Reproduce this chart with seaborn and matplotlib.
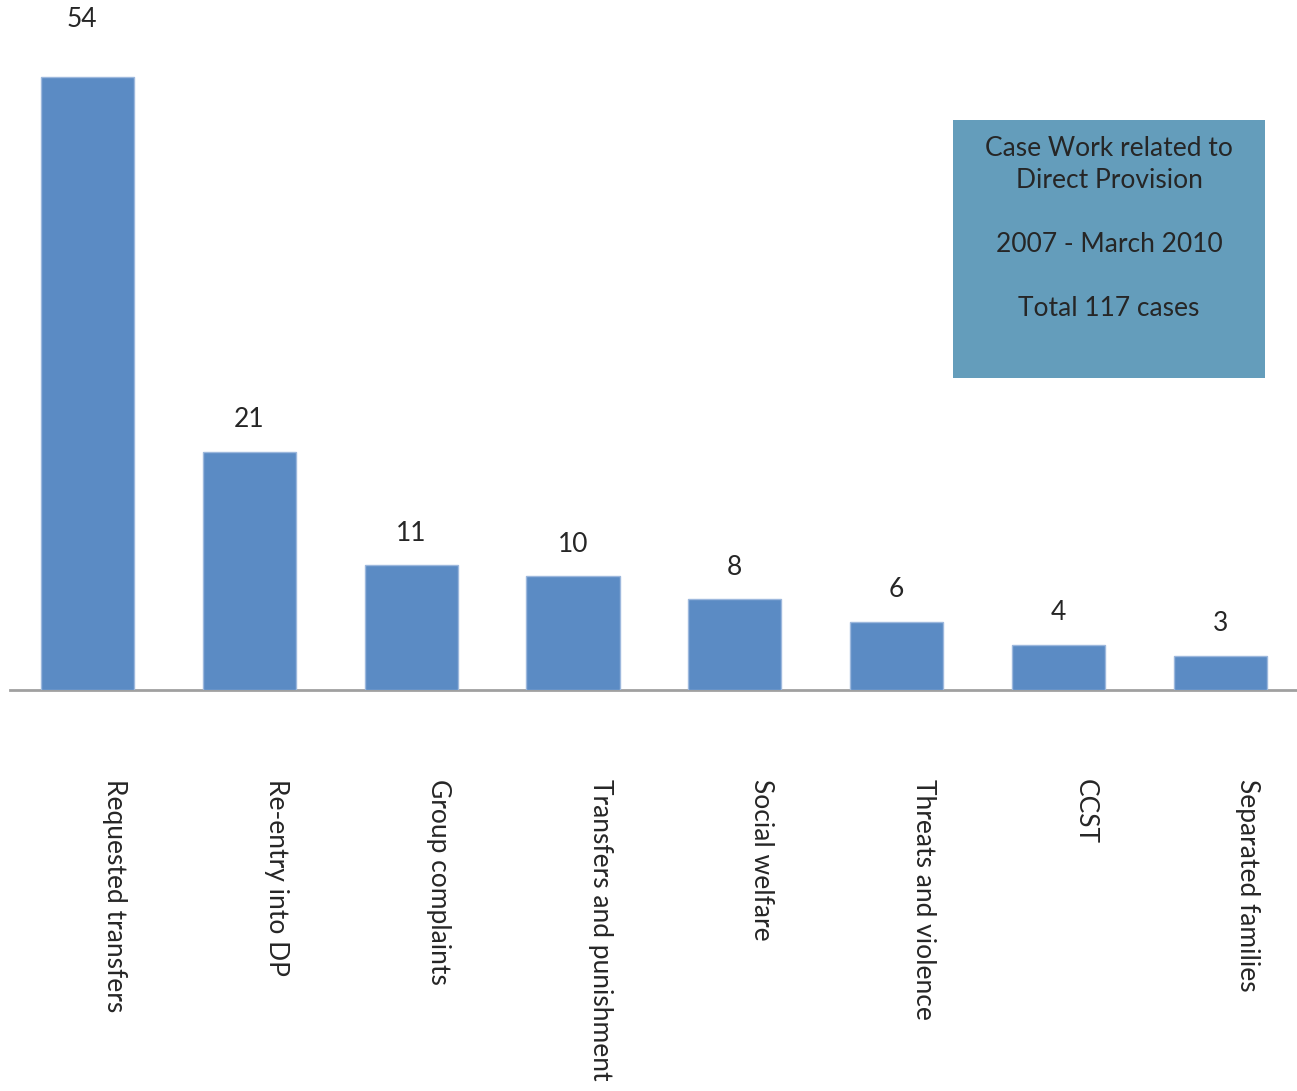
import matplotlib
matplotlib.use("Agg")
import matplotlib.pyplot as plt
import matplotlib.transforms as mtransforms
from matplotlib.patches import Rectangle
import seaborn as sns
import pandas as pd

# Case work categories and number of cases
categories = [
    "Requested transfers",
    "Re-entry into DP",
    "Group complaints",
    "Transfers and punishment",
    "Social welfare",
    "Threats and violence",
    "CCST",
    "Separated families",
]
cases = [54, 21, 11, 10, 8, 6, 4, 3]

box_lines = [
    "Case Work related to",
    "Direct Provision",
    "2007 - March 2010",
    "Total 117 cases",
]

BAR_COLOR = "#5B8BC4"
BOX_COLOR = "#649DBB"
TEXT_COLOR = "#262626"

sns.set_theme(style="white")
plt.rcParams["font.family"] = ["Lato", "DejaVu Sans"]

W, H = 1297, 1091
fig = plt.figure(figsize=(W / 100, H / 100), dpi=100)
fig.patch.set_facecolor("white")

# axes: baseline at 690 px from top, spanning x 10..1297 px
ax = fig.add_axes([10 / W, (H - 690) / H, (W - 10) / W, 690 / H])
df = pd.DataFrame({"category": categories, "cases": cases})
sns.barplot(data=df, x="category", y="cases", color=BAR_COLOR, width=0.575,
            saturation=1, edgecolor="#9DB8DD", linewidth=1.0, ax=ax)

ax.set_xlim(-0.48, 7.475)
ax.set_ylim(0, 60.78)
ax.set_xlabel("")
ax.set_ylabel("")
ax.set_yticks([])
for side in ["top", "left", "right"]:
    ax.spines[side].set_visible(False)
ax.spines["bottom"].set_color("#A0A0A0")
ax.spines["bottom"].set_linewidth(2)
ax.spines["bottom"].set_zorder(0)

ax.set_xticks(range(len(categories)))
ax.set_xticklabels(categories, rotation=-90, ha="center", va="top",
                   fontsize=19, color=TEXT_COLOR)
ax.tick_params(axis="x", length=0, pad=64)
shift = mtransforms.ScaledTranslation(0.27, 0, fig.dpi_scale_trans)
for lbl in ax.get_xticklabels():
    lbl.set_transform(lbl.get_transform() + shift)

# value labels above each bar
for i, v in enumerate(cases):
    offset = (-6, 57) if i == 0 else (0, 32)
    ax.annotate(str(v), (i, v), xytext=offset, textcoords="offset pixels",
                ha="center", va="center", fontsize=19, color=TEXT_COLOR,
                annotation_clip=False)

# summary box in the upper right
fig.add_artist(Rectangle((953 / W, 1 - 378 / H), (1265 - 953) / W, (378 - 120) / H,
                         transform=fig.transFigure, facecolor=BOX_COLOR,
                         edgecolor="none", zorder=3))
for line, y in zip(box_lines, [149, 181, 245, 309]):
    fig.text(1109 / W, 1 - y / H, line, ha="center", va="center",
             fontsize=19, color=TEXT_COLOR, zorder=4)

fig.savefig("out.png", dpi=100)
